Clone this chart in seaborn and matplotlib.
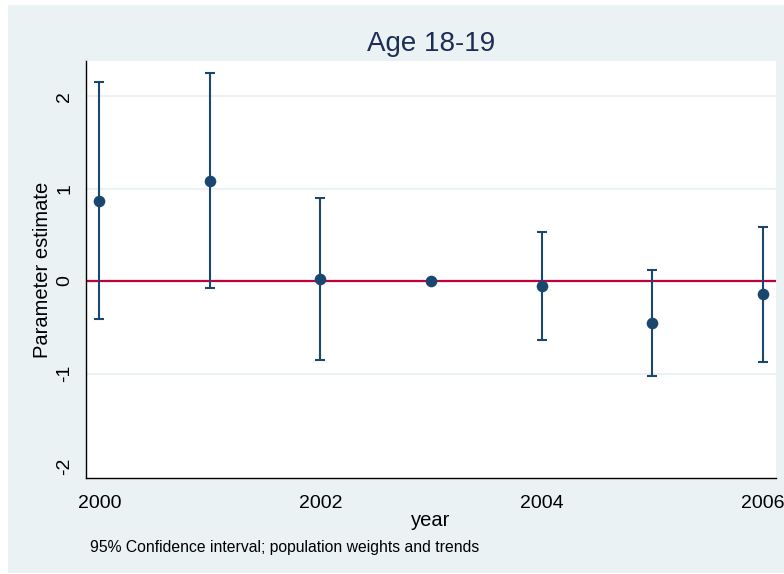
import numpy as np
import pandas as pd
import seaborn as sns
import matplotlib.pyplot as plt
from matplotlib.patches import Rectangle

# Values (2003 is the reference year, no interval)
years = [2000, 2001, 2002, 2003, 2004, 2005, 2006]
estimate = [0.87, 1.08, 0.02, 0.0, -0.05, -0.45, -0.14]
ci_low = [-0.41, -0.08, -0.85, np.nan, -0.64, -1.03, -0.88]
ci_high = [2.15, 2.25, 0.90, np.nan, 0.53, 0.12, 0.59]
x_ticks = [2000, 2002, 2004, 2006]
y_ticks = [-2, -1, 0, 1, 2]
grid_levels = [-1, 1, 2]

navy = "#1A476F"
red = "#C4003A"
bg = "#EAF2F3"

df = pd.DataFrame({"year": years, "estimate": estimate, "lo": ci_low, "hi": ci_high})

sns.set_style("white")
plt.rcParams["font.family"] = ["Liberation Sans", "DejaVu Sans"]
plt.rcParams["axes.unicode_minus"] = False
plt.rcParams["text.color"] = "black"
plt.rcParams["axes.labelcolor"] = "black"
plt.rcParams["xtick.labelcolor"] = "black"
plt.rcParams["ytick.labelcolor"] = "black"

fig = plt.figure(figsize=(7.84, 5.74), dpi=100)
fig.patch.set_facecolor("white")
fig.patches.append(Rectangle((8 / 784, 1 / 574), 1, 1 - 6 / 574, transform=fig.transFigure,
                             facecolor=bg, edgecolor="none", zorder=-10))

ax = fig.add_axes([86 / 784, 1 - 478 / 574, 690 / 784, 417 / 574])
ax.set_facecolor("white")

for g in grid_levels:
    ax.axhline(g, color=bg, lw=1.5, zorder=0)

ax.axhline(0, color=red, lw=1.6, zorder=1)

ci = df.dropna()
ax.errorbar(ci["year"], (ci["lo"] + ci["hi"]) / 2,
            yerr=(ci["hi"] - ci["lo"]) / 2, fmt="none",
            ecolor=navy, elinewidth=1.5, capsize=3.6, capthick=1.5, zorder=2)
sns.scatterplot(data=df, x="year", y="estimate", ax=ax, color=navy, s=70,
                edgecolor=navy, linewidth=0, zorder=3)

ax.set_xlim(1999.88, 2006.12)
ax.set_ylim(-2.13, 2.38)
ax.set_xticks(x_ticks)
ax.set_yticks(y_ticks)
ax.tick_params(axis="x", length=4, width=1, color="#555555", labelsize=14, pad=8,
               labelcolor="black")
ax.tick_params(axis="y", length=4, width=1, color="black", labelsize=14, pad=5,
               labelrotation=90, labelcolor="black")
for lab in ax.get_yticklabels():
    lab.set_va("center")

for side in ["top", "right"]:
    ax.spines[side].set_visible(False)
for side in ["left", "bottom"]:
    ax.spines[side].set_color("black")
    ax.spines[side].set_linewidth(1)

ax.set_xlabel("year", fontsize=14.5, va="center", color="black")
ax.xaxis.set_label_coords(0.5, (478 - 520) / 417)
ax.set_ylabel("Parameter estimate", fontsize=14.5, va="center", color="black")
ax.yaxis.set_label_coords((43 - 86) / 690, 0.5)

ax.set_title("Age 18-19", fontsize=20, color="#1E2D55", y=(478 - 50.7) / 417, pad=0)

fig.text(90 / 784, 1 - 552.3 / 574, "95% Confidence interval; population weights and trends",
         fontsize=11.3, va="baseline", ha="left", color="black")

fig.savefig("out.png", dpi=100, facecolor=fig.get_facecolor())
